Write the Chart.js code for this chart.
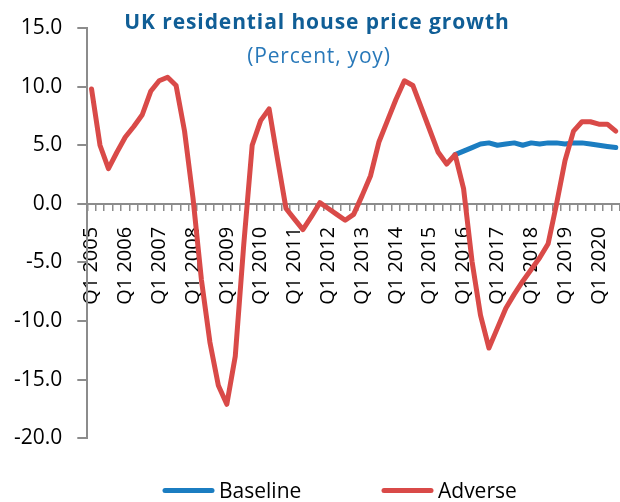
<!DOCTYPE html>
<html>
<head>
<meta charset="utf-8">
<script src="https://cdn.jsdelivr.net/npm/chart.js@4/dist/chart.umd.min.js"></script>
<style>
  html, body { margin: 0; padding: 0; background: #fff; overflow: hidden; }
  #wrap { width: 620px; height: 502px; position: relative; }
</style>
</head>
<body>
<div id="wrap"><canvas id="hpChart"></canvas></div>
<script>
// UK residential house price growth, percent yoy, Q1 2005 - Q3 2020
const years = [2005, 2006, 2007, 2008, 2009, 2010, 2011, 2012, 2013, 2014, 2015, 2016, 2017, 2018, 2019, 2020]
const quarters = ['Q1', 'Q2', 'Q3', 'Q4']

const adverse = [
  9.8, 5.0, 3.0, 4.4, 5.7, 6.6, 7.6, 9.6, 10.5, 10.8, 10.1, 6.2,
  0.5, -6.5, -11.8, -15.5, -17.1, -13.0, -3.5, 5.0, 7.1, 8.1, 3.8, -0.4,
  -1.3, -2.2, -1.1, 0.1, -0.4, -0.9, -1.4, -0.9, 0.7, 2.4, 5.3, 7.1,
  8.9, 10.5, 10.1, 8.2, 6.3, 4.4, 3.4, 4.2, 1.3, -4.9, -9.5, -12.3,
  -10.6, -8.9, -7.7, -6.6, -5.6, -4.6, -3.4, 0.0, 3.7, 6.2, 7.0, 7.0,
  6.8, 6.8, 6.2
]

// baseline only differs from history after Q4 2015
const baseline = [
  null, null, null, null, null, null, null, null, null, null, null, null,
  null, null, null, null, null, null, null, null, null, null, null, null,
  null, null, null, null, null, null, null, null, null, null, null, null,
  null, null, null, null, null, null, null, 4.2, 4.5, 4.8, 5.1, 5.2,
  5.0, 5.1, 5.2, 5.0, 5.2, 5.1, 5.2, 5.2, 5.1, 5.2, 5.2, 5.1,
  5.0, 4.9, 4.8
]

const yTicks = [-20, -15, -10, -5, 0, 5, 10, 15]

const labels = years.flatMap(y => quarters.map(q => q + ' ' + y)).slice(0, adverse.length)

const FONT = '"Open Sans", "Noto Sans", sans-serif'
const BLUE = '#1b7dc1'
const RED = '#d94a48'
const AXIS = '#8c8c8c'

// title and legend are drawn by hand, the excel original overlaps them with the plot
const extras = {
  id: 'extras',
  afterDraw(chart) {
    const ctx = chart.ctx
    ctx.save()
    ctx.textAlign = 'center'
    ctx.textBaseline = 'alphabetic'
    ctx.fillStyle = '#105e96'
    ctx.font = 'bold 21px ' + FONT
    ctx.letterSpacing = '0.9px'
    ctx.fillText('UK residential house price growth', 317, 28.5)
    ctx.fillStyle = '#2878b9'
    ctx.font = '21px ' + FONT
    ctx.letterSpacing = '0.8px'
    ctx.fillText('(Percent, yoy)', 319, 63)
    ctx.letterSpacing = '0px'

    // legend
    const items = [[163, 0], [382, 1]]
    ctx.font = '21px ' + FONT
    ctx.textAlign = 'left'
    ctx.textBaseline = 'middle'
    items.forEach(([x, idx]) => {
      const ds = chart.data.datasets[idx]
      ctx.strokeStyle = ds.borderColor
      ctx.lineWidth = 5
      ctx.lineCap = 'round'
      ctx.beginPath()
      ctx.moveTo(x + 2, 490.5)
      ctx.lineTo(x + 49, 490.5)
      ctx.stroke()
      ctx.fillStyle = '#000'
      ctx.fillText(ds.label, x + 56, 492)
    })
    ctx.restore()
  }
}

const ctx = document.getElementById('hpChart').getContext('2d')

const hpChart = new Chart(ctx, {
  type: 'line',
  data: {
    labels: labels,
    datasets: [{
      label: 'Baseline',
      data: baseline,
      borderColor: BLUE,
      backgroundColor: BLUE,
      borderWidth: 5,
      pointRadius: 0,
      borderJoinStyle: 'round',
      borderCapStyle: 'round',
      order: 1
    }, {
      label: 'Adverse',
      data: adverse,
      borderColor: RED,
      backgroundColor: RED,
      borderWidth: 5,
      pointRadius: 0,
      borderJoinStyle: 'round',
      borderCapStyle: 'round',
      order: 0
    }]
  },
  options: {
    responsive: true,
    maintainAspectRatio: false,
    animation: false,
    devicePixelRatio: 1,
    layout: {
      padding: { top: 28, right: 0, bottom: 63.7, left: 0 }
    },
    plugins: {
      legend: { display: false },
      title: { display: false },
      tooltip: { enabled: false }
    },
    scales: {
      x: {
        type: 'category',
        position: { y: 0 },
        offset: true,
        grid: {
          offset: true,
          drawOnChartArea: false,
          drawTicks: true,
          tickLength: 6,
          color: AXIS,
          lineWidth: 1.5
        },
        border: { color: AXIS, width: 2 },
        ticks: {
          autoSkip: false,
          minRotation: 90,
          maxRotation: 90,
          padding: 17,
          color: '#000',
          font: { family: FONT, size: 20 },
          callback: function (value) {
            const l = this.getLabelForValue(value)
            return l.startsWith('Q1') ? l : ''
          }
        },
        afterFit: (scale) => {
          scale.paddingLeft = 0
          scale.paddingRight = 0
        }
      },
      y: {
        min: -20,
        max: 15,
        afterBuildTicks: (scale) => {
          scale.ticks = yTicks.map(v => ({ value: v }))
        },
        grid: {
          drawOnChartArea: false,
          drawTicks: true,
          tickLength: 10,
          color: AXIS,
          lineWidth: 2
        },
        border: { color: AXIS, width: 2 },
        ticks: {
          padding: 15,
          color: '#000',
          font: { family: FONT, size: 21 },
          callback: (v) => Number(v).toFixed(1)
        },
        afterFit: (scale) => {
          scale.width = 87.3
        }
      }
    }
  },
  plugins: [extras]
})
</script>
</body>
</html>
